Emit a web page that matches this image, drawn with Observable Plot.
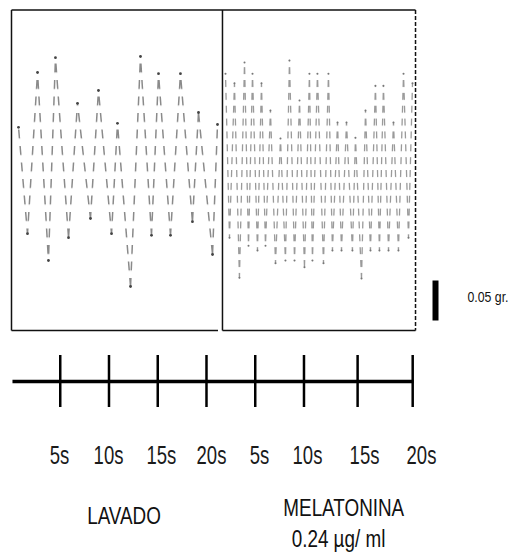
<!DOCTYPE html>
<html>
<head>
<meta charset="utf-8">
<script src="https://cdn.jsdelivr.net/npm/d3@7"></script>
<script src="https://cdn.jsdelivr.net/npm/@observablehq/plot@0.6"></script>
<style>
  html, body { margin: 0; padding: 0; background: #fff; }
  #chart svg { display: block; }
</style>
</head>
<body>
<div id="chart"></div>
<script>
// ---- data (time in s, tension in g above panel baseline) ----
const leftTime  = [0.72,1.64,2.67,3.79,4.51,5.85,6.77,8.10,8.92,10.26,10.87,12.21,13.23,14.36,15.08,16.31,17.33,18.56,19.18,20.62,21.13];
const leftForce = [0.254,0.121,0.3225,0.0875,0.341,0.116,0.284,0.14,0.30,0.121,0.259,0.055,0.3425,0.119,0.321,0.119,0.321,0.136,0.2725,0.095,0.2575];

const rightTime  = [21.95,22.36,22.87,23.38,23.90,24.31,24.72,25.23,25.64,26.05,26.56,27.08,27.59,28.10,28.51,29.03,29.54,30.05,30.56,30.87,31.38,32.00,32.51,32.92,33.44,33.85,34.36,34.97,35.28,35.90,36.31,36.82,37.33,37.74,38.15,38.67,39.18,39.69,40.21,40.72,41.13];
const rightForce = [0.321,0.116,0.309,0.066,0.335,0.106,0.321,0.10,0.309,0.106,0.275,0.084,0.24,0.0875,0.3375,0.0875,0.2875,0.079,0.321,0.0875,0.321,0.084,0.321,0.10,0.26,0.10,0.26,0.10,0.241,0.065,0.275,0.10,0.306,0.10,0.306,0.10,0.26,0.10,0.321,0.116,0.309];

const tickTimes  = [5, 10, 15, 20, 25, 30, 35.5, 41.15];
const labelTimes = [4.92, 9.95, 15.38, 20.51, 25.44, 30.36, 36.21, 42.05];
const tickLabels = ["5s","10s","15s","20s","5s","10s","15s","20s"];

const conditions = ["LAVADO", "MELATONINA", "0.24 µg/ ml"];
const scaleBarGrams = 0.05;
const scaleBarLabel = "0.05 gr.";

// layout in data units
const panelStart = 0, panelSplit = 21.64, panelEnd = 41.44, leftBottomEnd = 21.18;
const panelTop = 0.4006, panelBottom = 0;
const axisY = -0.06375, tickTop = -0.03125, tickBottom = -0.09625;
const axisStart = 0.1, axisEnd = 41.23;
const labelY = -0.16625;
const scaleBarX = 43.49, scaleBarBase = 0.0125;

const left = leftTime.map((t, i) => ({t, g: leftForce[i]}));
const right = rightTime.map((t, i) => ({t, g: rightForce[i]}));

const frame = [
  {x1: panelStart, y1: panelTop, x2: panelEnd, y2: panelTop},
  {x1: panelStart, y1: panelTop, x2: panelStart, y2: panelBottom},
  {x1: panelStart, y1: panelBottom, x2: leftBottomEnd, y2: panelBottom},
  {x1: panelSplit, y1: panelTop, x2: panelSplit, y2: panelBottom},
  {x1: panelSplit, y1: panelBottom, x2: panelEnd, y2: panelBottom}
];
const dashedEdge = [{x1: panelEnd, y1: panelTop, x2: panelEnd, y2: panelBottom}];
const axisLine = [{x1: axisStart, y1: axisY, x2: axisEnd, y2: axisY}];
const scaleBar = [{x1: scaleBarX, y1: scaleBarBase, x2: scaleBarX, y2: scaleBarBase + scaleBarGrams}];

const FONT = "'Liberation Sans', Arial, sans-serif";

const chart = Plot.plot({
  width: 517,
  height: 554,
  margin: 0,
  x: {domain: [-1.128, 51.9], axis: null},
  y: {domain: [-0.28, 0.4125], axis: null},
  marks: [
    Plot.line(left, {x: "t", y: "g", stroke: "#8a8a8a", strokeWidth: 1.5}),
    Plot.line(right, {x: "t", y: "g", stroke: "#9a9a9a", strokeWidth: 1.3}),
    Plot.dot(left, {x: "t", y: "g", r: 1.4, fill: "#444", stroke: null}),
    Plot.dot(right, {x: "t", y: "g", r: 1.0, fill: "#777", stroke: null}),
    Plot.link(frame, {x1: "x1", y1: "y1", x2: "x2", y2: "y2", stroke: "#111", strokeWidth: 1.5}),
    Plot.link(dashedEdge, {x1: "x1", y1: "y1", x2: "x2", y2: "y2", stroke: "#111", strokeWidth: 1.5, strokeDasharray: "4,2"}),
    Plot.link(scaleBar, {x1: "x1", y1: "y1", x2: "x2", y2: "y2", stroke: "#000", strokeWidth: 6}),
    Plot.link(axisLine, {x1: "x1", y1: "y1", x2: "x2", y2: "y2", stroke: "#000", strokeWidth: 3.5}),
    Plot.ruleX(tickTimes, {x: d => d, y1: tickTop, y2: tickBottom, stroke: "#000", strokeWidth: 2.5}),
    Plot.text(tickLabels, {x: (d, i) => labelTimes[i], y: labelY, text: d => d, fontSize: 25, fontFamily: FONT, fill: "#1a1a1a", lineAnchor: "bottom", textAnchor: "middle"}),
    Plot.text([conditions[0]], {x: 11.54, y: -0.2416, text: d => d, fontSize: 23, fontFamily: FONT, fill: "#111", lineAnchor: "bottom"}),
    Plot.text([conditions[1]], {x: 34.08, y: -0.23125, text: d => d, fontSize: 23, fontFamily: FONT, fill: "#111", lineAnchor: "bottom"}),
    Plot.text([conditions[2]], {x: 33.54, y: -0.2706, text: d => d, fontSize: 23, fontFamily: FONT, fill: "#111", lineAnchor: "bottom"}),
    Plot.text([scaleBarLabel], {x: 46.77, y: 0.03625, text: d => d, fontSize: 15, fontFamily: FONT, fill: "#111", lineAnchor: "bottom", textAnchor: "start"})
  ]
});

document.getElementById("chart").appendChild(chart);

const svg = d3.select(chart);

// narrow (Arial Narrow-like) lettering: condense every label horizontally
const textGroups = svg.selectAll('g[aria-label="text"]').nodes();
textGroups.forEach((g, gi) => {
  const factor = gi === 0 ? 0.74 : 0.82;
  d3.select(g).selectAll("text").each(function () {
    const w = this.getComputedTextLength();
    if (w > 0) {
      this.setAttribute("textLength", (w * factor).toFixed(2));
      this.setAttribute("lengthAdjust", "spacingAndGlyphs");
    }
  });
});

// horizontal banding of the dotted recorder trace
const defs = svg.insert("defs", ":first-child");
function stripes(id, y0, period, on) {
  const p = defs.append("pattern").attr("id", id + "-p")
    .attr("patternUnits", "userSpaceOnUse").attr("x", 0).attr("y", y0)
    .attr("width", 517).attr("height", period);
  p.append("rect").attr("width", 517).attr("height", on).attr("fill", "white");
  defs.append("mask").attr("id", id).attr("maskUnits", "userSpaceOnUse")
    .attr("x", 0).attr("y", 0).attr("width", 517).attr("height", 554)
    .append("rect").attr("width", 517).attr("height", 554).attr("fill", `url(#${id}-p)`);
}
stripes("bandL", 79.5, 16.5, 9);
stripes("bandR", 79.5, 12.86, 7);
const lines = svg.selectAll('g[aria-label="line"]').nodes();
if (lines[0]) lines[0].setAttribute("mask", "url(#bandL)");
if (lines[1]) lines[1].setAttribute("mask", "url(#bandR)");
</script>
</body>
</html>
